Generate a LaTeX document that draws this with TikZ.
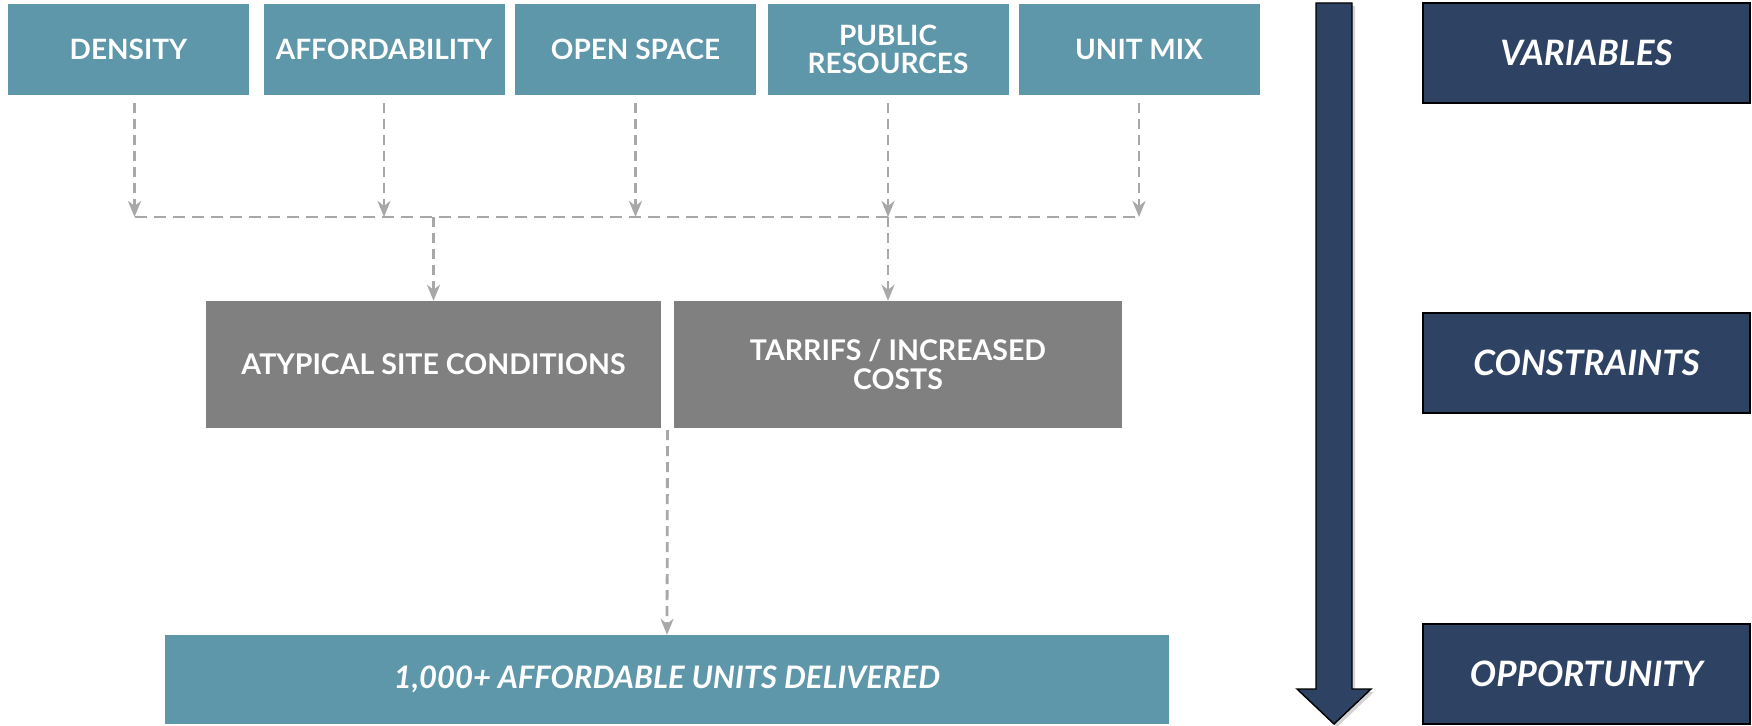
\documentclass[tikz,border=0pt]{standalone}
\usepackage{fontspec}
\setmainfont{Lato}
\usepackage{tikz}
\usetikzlibrary{positioning}
\usetikzlibrary{calc,arrows.meta,shadows}

\definecolor{boxteal}{HTML}{5D97A9}
\definecolor{boxgrey}{HTML}{808080}
\definecolor{stagenavy}{HTML}{2E4263}
\definecolor{dashgrey}{HTML}{A8A8A8}

\tikzset{
	varbox/.style={fill=boxteal, text=white, inner sep=0pt, align=center,
		minimum width=241pt, minimum height=91pt,
		font=\fontsize{28}{28}\selectfont\bfseries},
	constraintbox/.style={fill=boxgrey, text=white, inner sep=0pt, align=center,
		minimum height=127pt,
		font=\fontsize{28.5}{29}\selectfont\bfseries},
	outcomebox/.style={fill=boxteal, text=white, inner sep=0pt,
		minimum width=1004pt, minimum height=89pt,
		font=\fontsize{31}{33}\selectfont\bfseries\itshape},
	stagebox/.style={fill=stagenavy, draw=black, line width=1.4pt, text=white,
		minimum width=327pt, minimum height=100pt,
		font=\fontsize{35}{37}\selectfont\bfseries\itshape},
	flow/.style={draw=dashgrey, line width=2.8pt, dash pattern=on 10pt off 6pt,
		-{Stealth[length=16pt,width=13pt,inset=5pt]}},
	busline/.style={draw=dashgrey, line width=2.8pt, dash pattern=on 12pt off 7pt},
	bigarrow/.style={fill=stagenavy, draw=black, line width=1.4pt,
		drop shadow={shadow xshift=3pt, shadow yshift=-3pt, opacity=0.35}},
}

\begin{document}
\begin{tikzpicture}[x=1pt, y=-1pt]

	\useasboundingbox (0,0) rectangle (1752,725);

	% the five variables along the top
	\node[varbox] (density)   at (128.5,49.5) {DENSITY};
	\node[varbox] (afford)    at (384,49.5)   {AFFORDABILITY};
	\node[varbox] (openspace) at (635.5,49.5) {OPEN SPACE};
	\node[varbox] (public)    at (888,49.5)   {PUBLIC\\RESOURCES};
	\node[varbox] (unitmix)   at (1139,49.5)  {UNIT MIX};

	% constraints in the middle
	\node[constraintbox, minimum width=455pt] (atypical) at (433.5,364.5) {ATYPICAL SITE CONDITIONS};
	\node[constraintbox, minimum width=448pt] (tarrifs)  at (898,364.5)   {TARRIFS / INCREASED\\COSTS};

	% the result
	\node[outcomebox] (result) at (667,679.5) {1,000+ AFFORDABLE UNITS DELIVERED};

	% stage labels on the right
	\node[stagebox] (variables)   at (1586.5,53)  {VARIABLES};
	\node[stagebox] (constraints) at (1586.5,363) {CONSTRAINTS};
	\node[stagebox] (opportunity) at (1586.5,674) {OPPORTUNITY};

	% the collecting line
	\coordinate (bus) at (0,217);
	\coordinate (gap) at ($(atypical.south east)!0.5!(tarrifs.south west)$);
	\coordinate (densitydrop) at ([xshift=6pt]density.south);

	\draw[flow] ([yshift=-8pt]densitydrop) -- (densitydrop |- bus);
	\foreach \v in {afford, openspace, public, unitmix}
		\draw[flow] ([yshift=-8pt]\v.south) -- (\v.south |- bus);

	\draw[busline] (densitydrop |- bus) -- (unitmix.south |- bus);

	\draw[flow] (atypical.north |- bus) -- (atypical.north);
	\draw[flow] (public.south |- bus) -- (public.south |- tarrifs.north);
	\draw[flow] ([yshift=-2pt]gap) -- (result.north);

	% big arrow down the side
	\draw[bigarrow] (1316,3) -- (1352,3) -- (1352,689) -- (1371,689)
		-- (1334,724) -- (1297,689) -- (1316,689) -- cycle;

\end{tikzpicture}
\end{document}
